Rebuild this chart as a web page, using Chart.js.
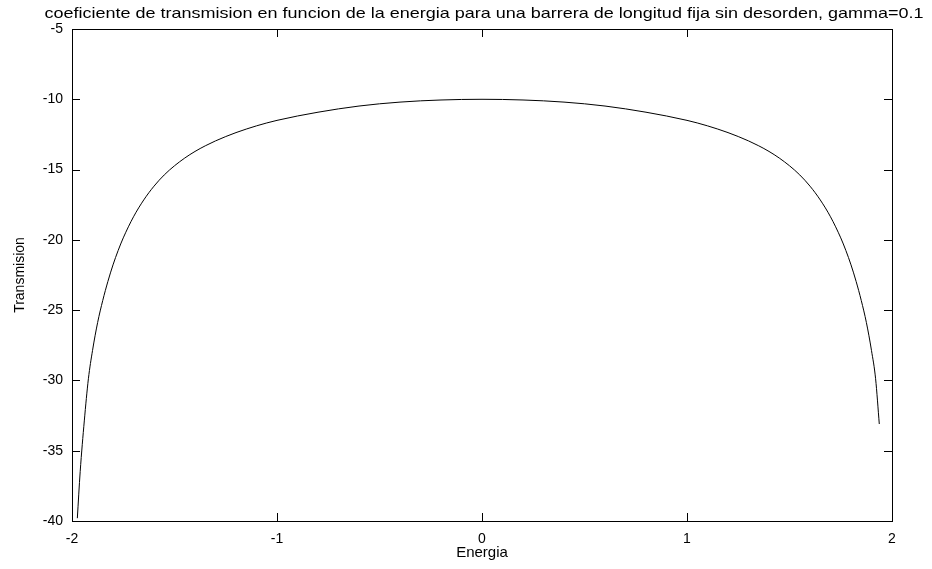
<!DOCTYPE html>
<html>
<head>
<meta charset="utf-8">
<title>Transmision vs Energia</title>
<script src="https://cdn.jsdelivr.net/npm/chart.js@4.4.1/dist/chart.umd.min.js"></script>
<style>
  html, body { margin: 0; padding: 0; background: #fff; }
  #wrap { width: 932px; height: 569px; position: relative; }
</style>
</head>
<body>
<div id="wrap"><canvas id="chart"></canvas></div>
<script>
/* log transmission of a fixed-length barrier vs energy, gnuplot-style frame */

const TITLE = 'coeficiente de transmision en funcion de la energia para una barrera de longitud fija sin desorden, gamma=0.1';
const X_LABEL = 'Energia';
const Y_LABEL = 'Transmision';

const energia = [
  -1.974, -1.96, -1.94, -1.92, -1.9, -1.875, -1.85, -1.825, -1.8, -1.775,
  -1.75, -1.7, -1.65, -1.6, -1.55, -1.5, -1.45, -1.4, -1.35, -1.3,
  -1.25, -1.2, -1.1, -1.0, -0.8, -0.6, -0.4, -0.2, 0,
  0.2, 0.4, 0.6, 0.8, 1.0, 1.1, 1.2, 1.25, 1.3, 1.35,
  1.4, 1.45, 1.5, 1.55, 1.6, 1.65, 1.7, 1.75, 1.775, 1.8,
  1.825, 1.85, 1.875, 1.9, 1.92, 1.938
];

const transmision = [
  -39.8, -36.48, -32.88, -29.88, -27.88, -25.88, -24.31, -22.96, -21.78, -20.76,
  -19.86, -18.36, -17.16, -16.18, -15.38, -14.73, -14.18, -13.71, -13.31, -12.96,
  -12.65, -12.37, -11.89, -11.5, -10.92, -10.48, -10.2, -10.05, -10.0,
  -10.05, -10.2, -10.48, -10.92, -11.5, -11.89, -12.37, -12.65, -12.96, -13.31,
  -13.71, -14.18, -14.73, -15.38, -16.18, -17.16, -18.36, -19.86, -20.76, -21.78,
  -22.96, -24.31, -25.88, -27.88, -29.88, -33.1
];

const X_TICKS = [-2, -1, 0, 1, 2];
const Y_TICKS = [-40, -35, -30, -25, -20, -15, -10, -5];

const FONT_FAMILY = '"Liberation Sans", Arial, Helvetica, sans-serif';
const TICK_LEN = 8;
const TITLE_STRETCH = 1.2;

// border box plus inward ticks on all four sides, and the title line
const framePlugin = {
  id: 'frame',
  afterDraw(chart) {
    const ctx = chart.ctx;
    const a = chart.chartArea;
    const x = chart.scales.x;
    const y = chart.scales.y;
    ctx.save();
    ctx.strokeStyle = '#000';
    ctx.lineWidth = 1;
    ctx.strokeRect(a.left + 0.5, a.top + 0.5, a.right - a.left, a.bottom - a.top);
    ctx.beginPath();
    X_TICKS.forEach(function(v) {
      var px = Math.round(x.getPixelForValue(v)) + 0.5;
      ctx.moveTo(px, a.bottom);
      ctx.lineTo(px, a.bottom - TICK_LEN);
      ctx.moveTo(px, a.top);
      ctx.lineTo(px, a.top + TICK_LEN);
    });
    Y_TICKS.forEach(function(v) {
      var py = Math.round(y.getPixelForValue(v)) + 0.5;
      ctx.moveTo(a.left, py);
      ctx.lineTo(a.left + TICK_LEN, py);
      ctx.moveTo(a.right, py);
      ctx.lineTo(a.right - TICK_LEN, py);
    });
    ctx.stroke();

    // the title font is a bit wider than the stock sans, so stretch it
    ctx.fillStyle = '#000';
    ctx.font = '15px ' + FONT_FAMILY;
    ctx.textAlign = 'center';
    ctx.textBaseline = 'middle';
    ctx.scale(TITLE_STRETCH, 1);
    ctx.fillText(TITLE, 484 / TITLE_STRETCH, 14);
    ctx.restore();
  }
};

const points = energia.map(function(e, i) { return { x: e, y: transmision[i] }; });

new Chart(document.getElementById('chart'), {
  type: 'line',
  data: {
    datasets: [{
      data: points,
      borderColor: '#000',
      borderWidth: 1,
      pointRadius: 0,
      fill: false,
      cubicInterpolationMode: 'monotone'
    }]
  },
  options: {
    responsive: true,
    maintainAspectRatio: false,
    animation: false,
    devicePixelRatio: 1,
    layout: { padding: { top: 29, right: 40, left: 0, bottom: 0 } },
    plugins: {
      legend: { display: false },
      tooltip: { enabled: false },
      title: { display: false }
    },
    scales: {
      x: {
        type: 'linear',
        min: -2, max: 2,
        afterBuildTicks: function(s) { s.ticks = X_TICKS.map(function(v) { return { value: v }; }); },
        afterFit: function(s) { s.height = 48; },
        grid: { display: false, drawTicks: false },
        border: { display: false },
        ticks: { color: '#000', padding: 10, maxRotation: 0, font: { family: FONT_FAMILY, size: 14 } },
        title: { display: true, text: X_LABEL, color: '#000', padding: { top: 0, bottom: 7 }, font: { family: FONT_FAMILY, size: 15 } }
      },
      y: {
        type: 'linear',
        min: -40, max: -5,
        afterBuildTicks: function(s) { s.ticks = Y_TICKS.map(function(v) { return { value: v }; }); },
        afterFit: function(s) { s.width = 72; },
        grid: { display: false, drawTicks: false },
        border: { display: false },
        ticks: { color: '#000', padding: 9, font: { family: FONT_FAMILY, size: 14 } },
        title: { display: true, text: Y_LABEL, color: '#000', padding: { top: 12, bottom: 0 }, font: { family: FONT_FAMILY, size: 14 } }
      }
    }
  },
  plugins: [framePlugin]
});
</script>
</body>
</html>
